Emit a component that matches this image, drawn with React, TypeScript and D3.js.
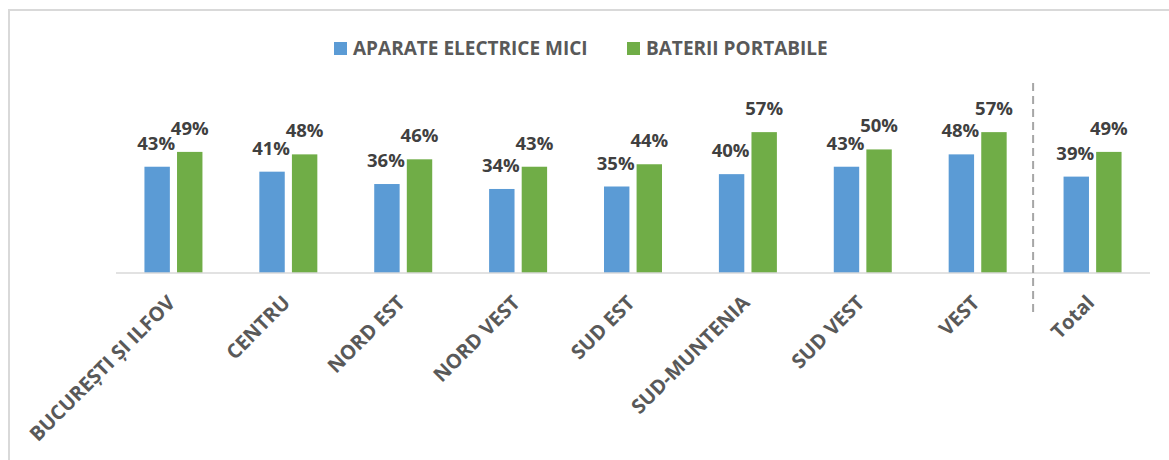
import React from 'react';
import * as d3 from 'd3';

// categories and values (percent)
const regions = [
  'BUCUREȘTI ȘI ILFOV',
  'CENTRU',
  'NORD EST',
  'NORD VEST',
  'SUD EST',
  'SUD-MUNTENIA',
  'SUD VEST',
  'VEST',
  'Total',
];
const seriesNames = ['APARATE ELECTRICE MICI', 'BATERII PORTABILE'];
const aparate = [43, 41, 36, 34, 35, 40, 43, 48, 39];
const baterii = [49, 48, 46, 43, 44, 57, 50, 57, 49];

const colors = ['#5B9BD5', '#70AD47'];
const font = '"Open Sans", "Noto Sans", sans-serif';

const W = 1169;
const H = 460;
const plot = { left: 116, right: 1150, top: 100, bottom: 273 };

const App = () => {
  const x0 = d3.scaleBand<string>().domain(regions).range([plot.left, plot.right]).padding(0);
  const x1 = d3.scaleBand<string>().domain(seriesNames).range([-29, 29]).paddingInner(0.22);
  const y = d3.scaleLinear().domain([0, 70]).range([plot.bottom, plot.top]);

  const values = [aparate, baterii];
  const center = (r: string) => (x0(r) ?? 0) + x0.bandwidth() / 2;
  const sepX = x0('Total') ?? 0;

  return (
    <svg
      width={W}
      height={H}
      style={{ position: 'absolute', left: 0, top: 0, background: '#fff' }}
      fontFamily={font}
    >
      {/* chart border, runs off the right/bottom edge like the source */}
      <rect x={9} y={10} width={W + 20} height={H + 20} fill="none" stroke="#D9D9D9" strokeWidth={2} />

      {/* legend */}
      <g>
        {seriesNames.map((s, i) => {
          const lx = i === 0 ? 334 : 627;
          return (
            <g key={s} transform={`translate(${lx},42)`}>
              <rect width={13} height={13} fill={colors[i]} />
              <text x={19} y={12.5} fontSize={19} fontWeight={700} fill="#595959">
                {s}
              </text>
            </g>
          );
        })}
      </g>

      {/* bars + labels */}
      {regions.map((r, ci) => (
        <g key={r} transform={`translate(${center(r)},0)`}>
          {seriesNames.map((s, si) => {
            const v = values[si][ci];
            const bx = x1(s) ?? 0;
            return (
              <g key={s}>
                <rect
                  x={bx}
                  y={y(v)}
                  width={x1.bandwidth()}
                  height={y(0) - y(v)}
                  fill={colors[si]}
                />
                <text
                  x={bx + x1.bandwidth() / 2 + (si === 0 ? -1 : 0)}
                  y={y(v) - 17}
                  textAnchor="middle"
                  fontSize={18.5}
                  fontWeight={700}
                  fill="#404040"
                >
                  {v}%
                </text>
              </g>
            );
          })}
        </g>
      ))}

      {/* category axis */}
      <line x1={plot.left} x2={plot.right} y1={y(0)} y2={y(0)} stroke="#D9D9D9" strokeWidth={1.5} />
      <line
        x1={sepX - 2}
        x2={sepX - 2}
        y1={83}
        y2={313}
        stroke="#A6A6A6"
        strokeWidth={2}
        strokeDasharray="8,5"
      />
      {regions.map((r) => (
        <text
          key={r}
          transform={`translate(${center(r) + 3},304) rotate(-45)`}
          textAnchor="end"
          fontSize={20}
          fontWeight={700}
          fill="#595959"
        >
          {r}
        </text>
      ))}
    </svg>
  );
};

export default App;
